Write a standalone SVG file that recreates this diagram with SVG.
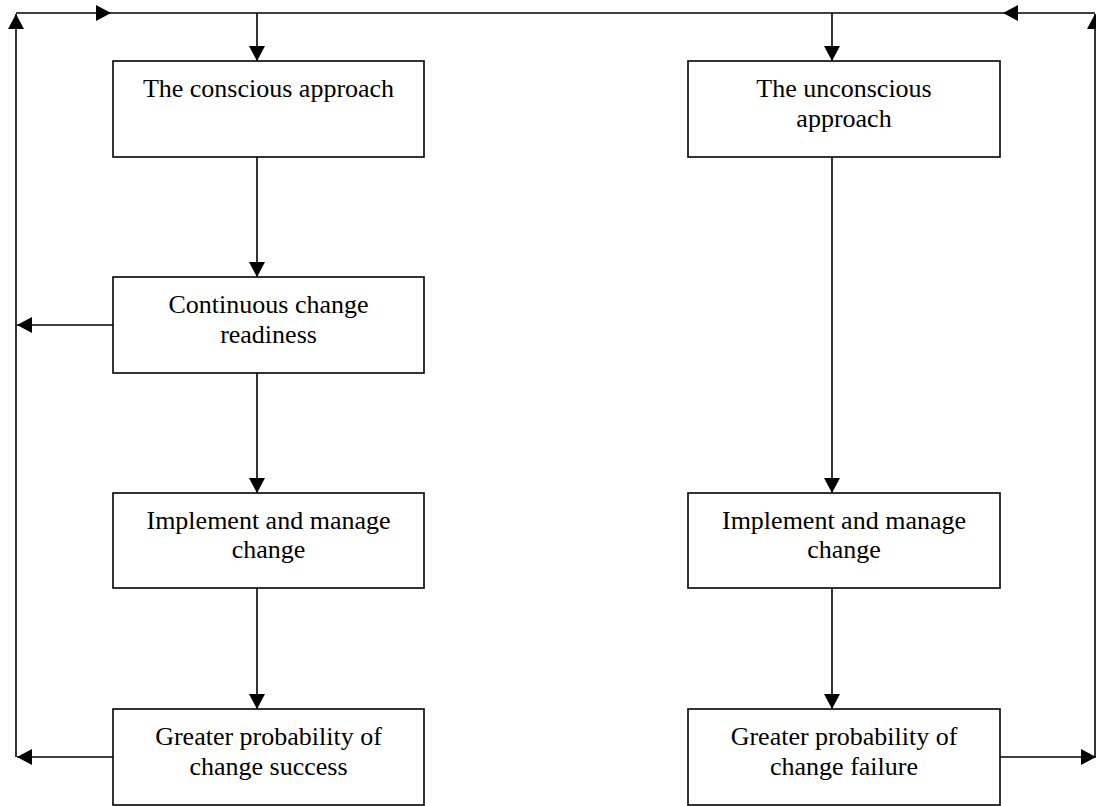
<svg xmlns="http://www.w3.org/2000/svg" width="1096" height="806" viewBox="0 0 1096 806">
<style>
.box{fill:#fff;stroke:#000;stroke-width:1.6}
.t{font-family:"Liberation Serif","Times New Roman",serif;font-size:26px;fill:#000;text-anchor:middle}
.c{stroke:#000;stroke-width:1.6;fill:none}
.a{marker-end:url(#ah)}
</style>
<defs>
<marker id="ah" markerUnits="userSpaceOnUse" markerWidth="16" markerHeight="16" refX="15" refY="8" orient="auto" viewBox="0 0 16 16">
<path d="M0,0 L15,8 L0,16 z" fill="#000"/>
</marker>
</defs>
<rect width="1096" height="806" fill="#fff"/>
<g id="connectors">
<line class="c a" x1="16" y1="757" x2="16" y2="14"/>
<line class="c a" x1="16" y1="13" x2="111" y2="13"/>
<line class="c" x1="111" y1="13" x2="1003" y2="13"/>
<line class="c a" x1="1095" y1="13" x2="1003" y2="13"/>
<line class="c a" x1="1095" y1="757" x2="1095" y2="14"/>
<line class="c a" x1="257" y1="13" x2="257" y2="61"/>
<line class="c a" x1="832" y1="13" x2="832" y2="61"/>
<line class="c a" x1="257" y1="157" x2="257" y2="277"/>
<line class="c a" x1="113" y1="325" x2="17" y2="325"/>
<line class="c a" x1="257" y1="373" x2="257" y2="493"/>
<line class="c a" x1="257" y1="588" x2="257" y2="709"/>
<line class="c a" x1="113" y1="757" x2="17" y2="757"/>
<line class="c a" x1="832" y1="157" x2="832" y2="493"/>
<line class="c a" x1="832" y1="588" x2="832" y2="709"/>
<line class="c a" x1="1000" y1="757" x2="1096" y2="757"/>
</g>
<g id="conscious">
<rect class="box" x="113" y="61" width="311" height="96"/>
<text class="t" x="268.5" y="97">The conscious approach</text>
</g>
<g id="readiness">
<rect class="box" x="113" y="277" width="311" height="96"/>
<text class="t" x="268.5" y="313">Continuous change</text>
<text class="t" x="268.5" y="343">readiness</text>
</g>
<g id="implement-left">
<rect class="box" x="113" y="493" width="311" height="95"/>
<text class="t" x="268.5" y="529">Implement and manage</text>
<text class="t" x="268.5" y="558">change</text>
</g>
<g id="success">
<rect class="box" x="113" y="709" width="311" height="96"/>
<text class="t" x="268.5" y="745">Greater probability of</text>
<text class="t" x="268.5" y="775">change success</text>
</g>
<g id="unconscious">
<rect class="box" x="688" y="61" width="312" height="96"/>
<text class="t" x="844" y="97">The unconscious</text>
<text class="t" x="844" y="127">approach</text>
</g>
<g id="implement-right">
<rect class="box" x="688" y="493" width="312" height="95"/>
<text class="t" x="844" y="529">Implement and manage</text>
<text class="t" x="844" y="558">change</text>
</g>
<g id="failure">
<rect class="box" x="688" y="709" width="312" height="96"/>
<text class="t" x="844" y="745">Greater probability of</text>
<text class="t" x="844" y="775">change failure</text>
</g>
</svg>
